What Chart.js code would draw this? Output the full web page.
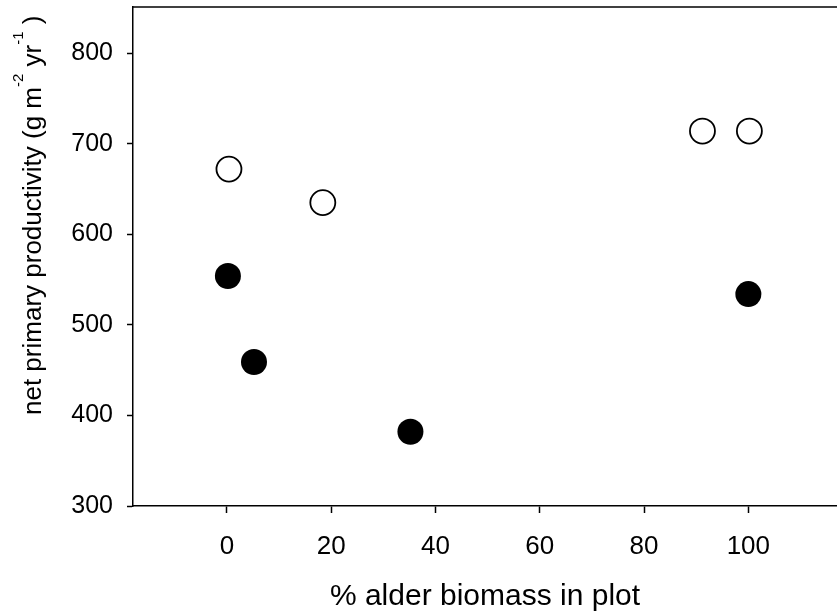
<!DOCTYPE html>
<html>
<head>
<meta charset="utf-8">
<script src="https://cdn.jsdelivr.net/npm/chart.js@4.4.1/dist/chart.umd.min.js"></script>
<style>
    html, body { margin: 0; padding: 0; background: #fff; }
    #wrap { width: 837px; height: 615px; }
</style>
</head>
<body>
<div id="wrap"><canvas id="chart" width="837" height="615"></canvas></div>
<script>
// open circles
const openX = [0.4, 18.4, 91.2, 100.2];
const openY = [672, 635, 714, 714];
// filled circles
const filledX = [0.2, 5.2, 35.2, 100];
const filledY = [554, 459, 382, 534];

const xTicks = [0, 20, 40, 60, 80, 100];
const yTicks = [300, 400, 500, 600, 700, 800];

const xTitle = "% alder biomass in plot";
// y title pieces: [text, superscript?]
const yTitleParts = [
    ["net primary productivity (g m", false],
    ["-2", true],
    [" yr", false],
    ["-1", true],
    [" )", false]
];

function toPoints(xs, ys) {
    return xs.map((x, i) => ({ x: x, y: ys[i] }));
}

const FONT = "'Liberation Sans', Arial, sans-serif";

// draws the y title (with superscripts) and the top frame line
const framePlugin = {
    id: "frame",
    afterDraw(chart) {
        const ctx = chart.ctx;
        const area = chart.chartArea;

        ctx.save();
        ctx.strokeStyle = "#000";
        ctx.lineWidth = 1.5;
        ctx.beginPath();
        ctx.moveTo(area.left, area.top);
        ctx.lineTo(area.right, area.top);
        ctx.stroke();
        ctx.restore();

        ctx.save();
        ctx.translate(41, 415);
        ctx.rotate(-Math.PI / 2);
        ctx.fillStyle = "#000";
        ctx.textAlign = "left";
        ctx.textBaseline = "alphabetic";
        let x = 0;
        yTitleParts.forEach(([text, sup]) => {
            if (sup) {
                ctx.font = "15px " + FONT;
                ctx.fillText(text, x, -18);
            } else {
                ctx.font = "26px " + FONT;
                ctx.fillText(text, x, 0);
            }
            x += ctx.measureText(text).width;
        });
        ctx.restore();
    }
};

const ctx = document.getElementById("chart").getContext("2d");
new Chart(ctx, {
    type: "scatter",
    data: {
        datasets: [
            {
                label: "open",
                data: toPoints(openX, openY),
                pointRadius: 12.5,
                pointHoverRadius: 12.5,
                backgroundColor: "#fff",
                borderColor: "#000",
                borderWidth: 1.8
            },
            {
                label: "filled",
                data: toPoints(filledX, filledY),
                pointRadius: 13,
                pointHoverRadius: 13,
                backgroundColor: "#000",
                borderColor: "#000",
                borderWidth: 0
            }
        ]
    },
    options: {
        responsive: false,
        animation: false,
        events: [],
        layout: { autoPadding: false, padding: { top: 7, right: 0, left: 0, bottom: 0 } },
        plugins: {
            legend: { display: false },
            tooltip: { enabled: false }
        },
        scales: {
            x: {
                type: "linear",
                min: -18,
                max: 117,
                afterBuildTicks: (scale) => {
                    scale.ticks = xTicks.map((v) => ({ value: v }));
                },
                afterFit: (scale) => {
                    scale.height = 109;
                    scale.paddingLeft = 0;
                    scale.paddingRight = 0;
                },
                grid: {
                    display: true,
                    drawOnChartArea: false,
                    drawTicks: true,
                    tickLength: 7,
                    tickColor: "#000",
                    tickWidth: 1.5
                },
                border: { display: true, color: "#000", width: 1.5 },
                ticks: {
                    color: "#000",
                    font: { family: FONT, size: 26 },
                    padding: 18,
                    maxRotation: 0
                },
                title: {
                    display: true,
                    text: xTitle,
                    color: "#000",
                    font: { family: FONT, size: 30 },
                    padding: { top: 0, bottom: 0 }
                }
            },
            y: {
                type: "linear",
                min: 300,
                max: 851,
                afterBuildTicks: (scale) => {
                    scale.ticks = yTicks.map((v) => ({ value: v }));
                },
                afterFit: (scale) => {
                    scale.width = 133;
                    scale.paddingTop = 0;
                    scale.paddingBottom = 0;
                },
                grid: {
                    display: true,
                    drawOnChartArea: false,
                    drawTicks: true,
                    tickLength: 6,
                    tickColor: "#000",
                    tickWidth: 1.5
                },
                border: { display: true, color: "#000", width: 1.5 },
                ticks: {
                    color: "#000",
                    font: { family: FONT, size: 25 },
                    padding: 14
                }
            }
        }
    },
    plugins: [framePlugin]
});
</script>
</body>
</html>
